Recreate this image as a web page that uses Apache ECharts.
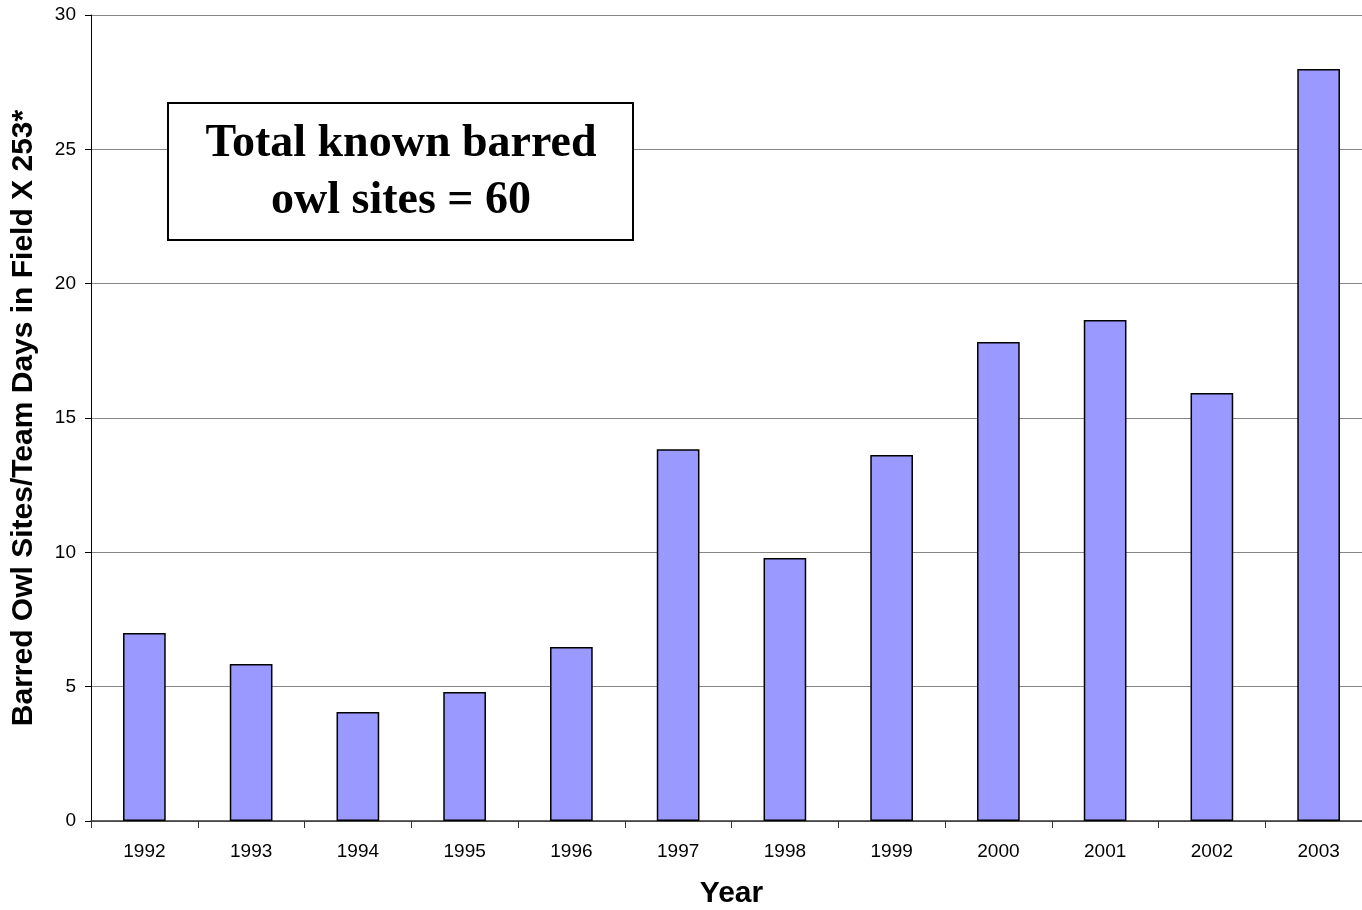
<!DOCTYPE html>
<html>
<head>
<meta charset="utf-8">
<script src="https://cdn.jsdelivr.net/npm/echarts@6/dist/echarts.min.js"></script>
<style>
html,body{margin:0;padding:0;background:#fff;width:1362px;height:910px;overflow:hidden}
#c{position:absolute;left:0;top:0;width:1362px;height:910px;overflow:hidden}
</style>
</head>
<body>
<div id="c"></div>
<script>
const years = ['1992','1993','1994','1995','1996','1997','1998','1999','2000','2001','2002','2003'];
const sitesPerEffort = [7.0, 5.84, 4.06, 4.8, 6.48, 13.84, 9.79, 13.62, 17.83, 18.65, 15.93, 27.99];
const yTicks = { min: 0, max: 30, interval: 5 };
const yTitle = 'Barred Owl Sites/Team Days in Field X 253*';
const xTitle = 'Year';
const noteLines = ['Total known barred', 'owl sites = 60'];

const chart = echarts.init(document.getElementById('c'), null, {renderer: 'canvas', width: 1362, height: 910});
chart.setOption({
  animation: false,
  backgroundColor: '#fff',
  grid: { left: 91, width: 1281, top: 15, height: 806, containLabel: false, outerBoundsMode: 'none' },
  xAxis: {
    type: 'category',
    data: years,
    boundaryGap: true,
    name: xTitle,
    nameLocation: 'middle',
    nameGap: 58,
    nameTextStyle: { fontFamily: 'Liberation Sans, Arial', fontWeight: 'bold', fontSize: 30, color: '#000' },
    axisLine: { lineStyle: { color: '#333', width: 1.5 } },
    axisTick: { show: true, length: 7, lineStyle: { color: '#333' } },
    axisLabel: { fontFamily: 'Liberation Sans, Arial', fontSize: 19, color: '#000', margin: 21 },
    splitLine: { show: false }
  },
  yAxis: {
    type: 'value',
    min: yTicks.min, max: yTicks.max, interval: yTicks.interval,
    name: yTitle,
    nameLocation: 'middle',
    nameGap: 52,
    nameTextStyle: { fontFamily: 'Liberation Sans, Arial', fontWeight: 'bold', fontSize: 30, color: '#000' },
    axisLine: { show: true, lineStyle: { color: '#000', width: 1 } },
    axisTick: { show: true, length: 6, lineStyle: { color: '#000' } },
    axisLabel: { fontFamily: 'Liberation Sans, Arial', fontSize: 19, color: '#000', margin: 15 },
    splitLine: { show: true, lineStyle: { color: '#868686', width: 1.2 } }
  },
  series: [{
    type: 'bar',
    data: sitesPerEffort,
    barWidth: '40%',
    itemStyle: { color: '#9999FF', borderColor: '#000', borderWidth: 1.5 }
  }],
  graphic: [{
    type: 'group',
    left: 167, top: 102,
    z: 100,
    children: [{
      type: 'rect',
      z: 100,
      shape: { x: 0, y: 0, width: 465, height: 137 },
      style: { fill: '#fff', stroke: '#000', lineWidth: 2 }
    }, {
      type: 'text',
      z: 101,
      x: 233, y: 70,
      style: {
        text: noteLines.join('\n'),
        font: 'bold 46px "Liberation Serif", "Times New Roman", serif',
        fill: '#000',
        align: 'center',
        verticalAlign: 'middle',
        lineHeight: 57
      }
    }]
  }]
});
</script>
</body>
</html>
